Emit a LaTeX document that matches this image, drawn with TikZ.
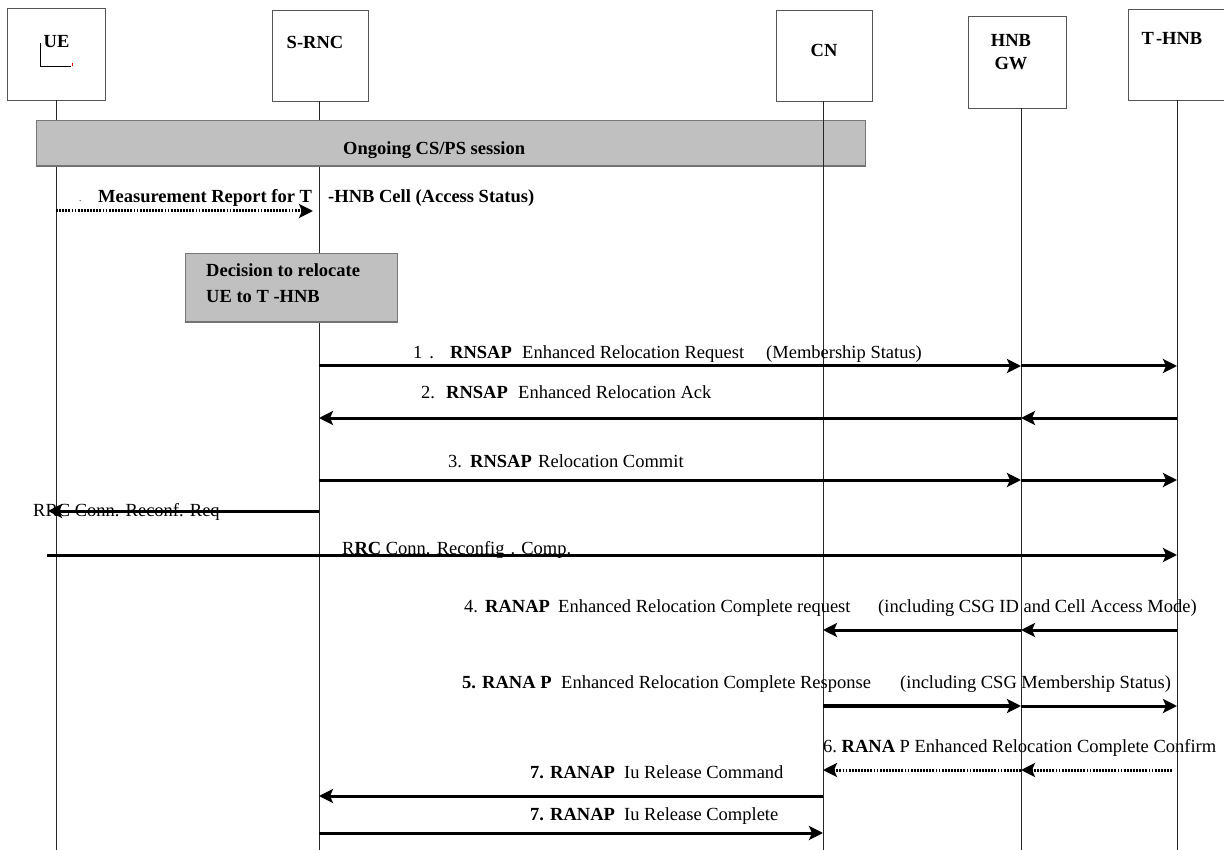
\documentclass[tikz,border=0pt]{standalone}
\usepackage{fontspec}
\setmainfont{Liberation Serif}
\usetikzlibrary{arrows.meta}
\definecolor{barfill}{RGB}{192,192,192}
\definecolor{boxline}{RGB}{85,85,85}
\begin{document}
\begin{tikzpicture}[x=1pt,y=-1pt,
  txt/.style={inner sep=0pt, anchor=base west, font=\fontsize{18.5}{22}\selectfont},
  btxt/.style={txt, font=\fontsize{18.5}{22}\selectfont\bfseries},
  ctxt/.style={btxt, anchor=base},
  actor/.style={draw=boxline, line width=1pt, fill=white, anchor=north west, inner sep=0pt},
  life/.style={line width=1pt, draw=black!85},
  shaded/.style={draw=boxline!80, line width=1pt, fill=barfill, anchor=north west, inner sep=0pt},
  msg/.style={line width=3pt, -{Stealth[length=14pt,width=14pt,inset=3pt]}},
  dotmsg/.style={msg, dash pattern=on 1.8pt off 1.3pt},
]
\useasboundingbox (0,0) rectangle (1224,850);

% participants
\node[actor, minimum width=98pt, minimum height=92pt] (ue)   at (7,8) {};
\node[actor, minimum width=96pt, minimum height=91pt] (srnc) at (272,10) {};
\node[actor, minimum width=96pt, minimum height=91pt] (cn)   at (776,10) {};
\node[actor, minimum width=98pt, minimum height=92pt] (gw)   at (968,16) {};
\node[actor, minimum width=98pt, minimum height=91pt] (thnb) at (1128,9) {};

\node[ctxt] (ue-t)   at (56.5,48) {UE};
\node[ctxt] (srnc-t) at (315,49) {S-RNC};
\node[ctxt] (cn-t)   at (824,57) {CN};
\node[ctxt] (gw-t1)  at (1011,47) {HNB};
\node[ctxt] (gw-t2)  at (1011,70) {GW};
\node[ctxt] (thnb-t) at (1172,45) {T\kern2pt-HNB};

% small mark inside the UE box
\draw[line width=0.8pt] (40,43) -- (40,66) -- (71,66);
\draw[line width=0.8pt, red] (72,63) -- (72,66);

% lifeline starting points
\coordinate (ue-l)   at (56,100);
\coordinate (srnc-l) at (319,101);
\coordinate (cn-l)   at (823,101);
\coordinate (gw-l)   at (1021,108);
\coordinate (thnb-l) at (1177,100);
\coordinate (bottom) at (0,850);

\draw[life] (ue-l) -- (ue-l |- bottom);
\draw[life] (srnc-l) -- (srnc-l |- bottom);

% ongoing session bar
\node[shaded, minimum width=829pt, minimum height=45pt] (sess) at (36,120) {};
\draw[line width=2pt, black!55] (sess.south west) -- (sess.south east);
\node[btxt] (sess-t) at (343,155) {Ongoing CS/PS session};

\draw[life] (cn-l) -- (cn-l |- bottom);
\draw[life] (gw-l) -- (gw-l |- bottom);
\draw[life] (thnb-l) -- (thnb-l |- bottom);

% decision box on the S-RNC lifeline
\node[shaded, minimum width=212pt, minimum height=68pt] (dec) at (185,253) {};
\draw[line width=2pt, black!55] (dec.south west) -- (dec.south east);
\node[btxt] (dec-t1) at (206,277) {Decision to relocate};
\node[btxt] (dec-t2) at (206,303) {UE to T -HNB};

% message rows
\coordinate (r0) at (0,211);
\coordinate (r1) at (0,366);
\coordinate (r2) at (0,418);
\coordinate (r3) at (0,480);
\coordinate (rq) at (0,511);
\coordinate (rc) at (0,555);
\coordinate (r4) at (0,630);
\coordinate (r5) at (0,706);
\coordinate (r6) at (0,770);
\coordinate (r7) at (0,796);
\coordinate (r8) at (0,833);

% measurement report
\draw[dotmsg, shorten >=6pt] (ue-l |- r0) -- (srnc-l |- r0);
\node[txt, font=\fontsize{9}{10}\selectfont] (meas-d) at (79,202) {.};
\node[btxt] (meas-a) at (98,203) {Measurement Report for T};
\node[btxt] (meas-b) at (328,203) {-HNB Cell (Access Status)};

% 1
\draw[msg] (srnc-l |- r1) -- (gw-l |- r1);
\draw[msg] (gw-l |- r1) -- (thnb-l |- r1);
\node[txt] (m1-n) at (413,359) {1\hspace{7pt}.};
\node[btxt] (m1-p) at (450,359) {RNSAP};
\node[txt] (m1-a) at (522,359) {Enhanced Relocation Request};
\node[txt] (m1-b) at (766,359) {(Membership Status)};

% 2
\draw[msg] (thnb-l |- r2) -- (gw-l |- r2);
\draw[msg] (gw-l |- r2) -- (srnc-l |- r2);
\node[txt] (m2-n) at (421,399) {2.};
\node[btxt] (m2-p) at (446,399) {RNSAP};
\node[txt] (m2-a) at (518,399) {Enhanced Relocation Ack};

% 3
\draw[msg] (srnc-l |- r3) -- (gw-l |- r3);
\draw[msg] (gw-l |- r3) -- (thnb-l |- r3);
\node[txt] (m3-n) at (448,467) {3.};
\node[btxt] (m3-p) at (470,467) {RNSAP};
\node[txt] (m3-a) at (538,467) {Relocation Commit};

% RRC reconfiguration
\draw[msg, shorten >=-8pt] (srnc-l |- rq) -- (ue-l |- rq);
\node[txt] (rq-t) at (33,516) {RRC Conn. Reconf. Req};
\draw[msg, shorten <=-9pt] (ue-l |- rc) -- (thnb-l |- rc);
\node[txt] (rc-t) at (342,554) {R\textbf{RC} Conn. Reconfig\hspace{6pt}. Comp.};

% 4
\draw[msg] (thnb-l |- r4) -- (gw-l |- r4);
\draw[msg] (gw-l |- r4) -- (cn-l |- r4);
\node[txt] (m4-n) at (464,612) {4.};
\node[btxt] (m4-p) at (485,612) {RANAP};
\node[txt] (m4-a) at (558,612) {Enhanced Relocation Complete request};
\node[txt] (m4-b) at (878,612) {(including CSG ID and Cell Access Mode)};

% 5
\draw[msg, line width=4pt] (cn-l |- r5) -- (gw-l |- r5);
\draw[msg] (gw-l |- r5) -- (thnb-l |- r5);
\node[btxt] (m5-p) at (462,688) {5. RANA P};
\node[txt] (m5-a) at (561,688) {Enhanced Relocation Complete Response};
\node[txt] (m5-b) at (900,688) {(including CSG Membership Status)};

% 6
\draw[dotmsg, shorten <=5pt] (thnb-l |- r6) -- (gw-l |- r6);
\draw[dotmsg] (gw-l |- r6) -- (cn-l |- r6);
\node[txt] (m6-t) at (823,752) {6.\hspace{4.6pt}\textbf{RANA} P Enhanced Relocation Complete Confirm};

% 7
\draw[msg] (cn-l |- r7) -- (srnc-l |- r7);
\node[btxt] (m7-p) at (530,778) {7. RANAP};
\node[txt] (m7-a) at (624,778) {Iu Release Command};
\draw[msg] (srnc-l |- r8) -- (cn-l |- r8);
\node[btxt] (m8-p) at (530,820) {7. RANAP};
\node[txt] (m8-a) at (624,820) {Iu Release Complete};
\end{tikzpicture}
\end{document}
